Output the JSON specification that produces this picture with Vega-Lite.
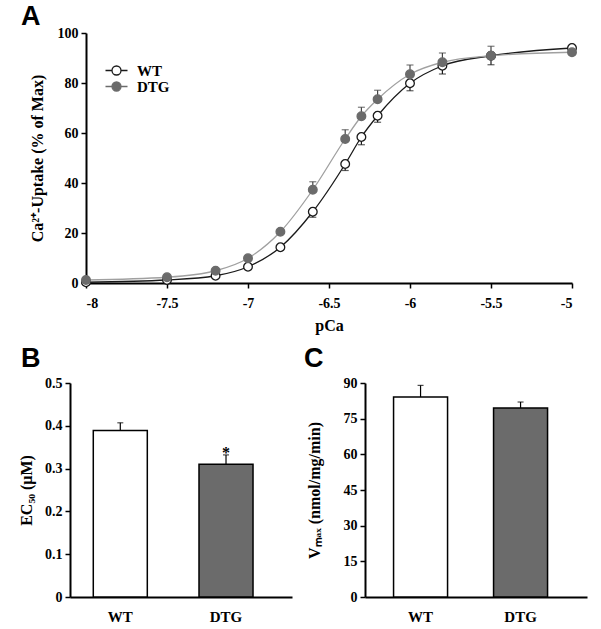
{
  "$schema": "https://vega.github.io/schema/vega-lite/v6.json",
  "padding": {"left": 18, "top": 3, "right": 5, "bottom": 5},
  "background": "white",
  "spacing": 12,
  "config": {
    "view": {"stroke": null},
    "axis": {
      "labelFont": "Liberation Serif", "labelFontWeight": "bold", "labelFontSize": 14, "labelColor": "black",
      "titleFont": "Liberation Serif", "titleFontWeight": "bold", "titleFontSize": 16, "titleColor": "black",
      "domainColor": "black", "domainWidth": 2, "tickColor": "black", "tickWidth": 1.5, "tickSize": 5,
      "grid": false, "labelPadding": 3, "labelOverlap": false
    },
    "title": {"font": "Liberation Sans", "fontWeight": "bold", "fontSize": 27, "color": "black", "anchor": "start", "frame": "group"}
  },
  "datasets": {
    "curve": [
      {"pCa": -8.0, "group": "WT", "value": 0.3, "end": null},
      {"pCa": -7.5, "group": "WT", "value": 1.2, "end": null},
      {"pCa": -7.2, "group": "WT", "value": 2.9, "end": null},
      {"pCa": -7.0, "group": "WT", "value": 6.5, "end": null},
      {"pCa": -6.8, "group": "WT", "value": 14.3, "end": 13.3},
      {"pCa": -6.6, "group": "WT", "value": 28.5, "end": 26.3},
      {"pCa": -6.4, "group": "WT", "value": 47.6, "end": 45.0},
      {"pCa": -6.3, "group": "WT", "value": 58.4, "end": 55.3},
      {"pCa": -6.2, "group": "WT", "value": 66.9, "end": 64.3},
      {"pCa": -6.0, "group": "WT", "value": 79.9, "end": 76.9},
      {"pCa": -5.8, "group": "WT", "value": 86.9, "end": 83.6},
      {"pCa": -5.5, "group": "WT", "value": 90.9, "end": 87.3},
      {"pCa": -5.0, "group": "WT", "value": 94.0, "end": null},
      {"pCa": -8.0, "group": "DTG", "value": 1.2, "end": null},
      {"pCa": -7.5, "group": "DTG", "value": 2.3, "end": null},
      {"pCa": -7.2, "group": "DTG", "value": 4.9, "end": null},
      {"pCa": -7.0, "group": "DTG", "value": 9.9, "end": null},
      {"pCa": -6.8, "group": "DTG", "value": 20.5, "end": 21.5},
      {"pCa": -6.6, "group": "DTG", "value": 37.3, "end": 40.5},
      {"pCa": -6.4, "group": "DTG", "value": 57.6, "end": 61.3},
      {"pCa": -6.3, "group": "DTG", "value": 66.7, "end": 70.3},
      {"pCa": -6.2, "group": "DTG", "value": 73.5, "end": 77.1},
      {"pCa": -6.0, "group": "DTG", "value": 83.5, "end": 87.2},
      {"pCa": -5.8, "group": "DTG", "value": 88.3, "end": 92.0},
      {"pCa": -5.5, "group": "DTG", "value": 90.9, "end": 94.7},
      {"pCa": -5.0, "group": "DTG", "value": 92.3, "end": null}
    ],
    "ec50": [
      {"group": "WT", "value": 0.389, "hi": 0.407, "star": ""},
      {"group": "DTG", "value": 0.310, "hi": 0.332, "star": "*"}
    ],
    "vmax": [
      {"group": "WT", "value": 84.1, "hi": 89.0},
      {"group": "DTG", "value": 79.5, "hi": 82.0}
    ]
  },
  "vconcat": [
    {
      "title": {"text": "A", "dx": -49, "offset": -5},
      "width": 502,
      "height": 250,
      "data": {"name": "curve"},
      "layer": [
        {
          "mark": {"type": "line", "interpolate": "monotone", "strokeWidth": 1.3},
          "encoding": {
            "x": {"field": "pCa", "type": "quantitative",
                  "scale": {"domain": [-8, -5], "range": [16, 502], "nice": false, "zero": false},
                  "axis": {"title": "pCa", "values": [-8, -7.5, -7, -6.5, -6, -5.5, -5], "tickCount": 7, "format": "~g",
                           "labelExpr": "replace(datum.label, '−', '-')", "labelPadding": 8, "titlePadding": 7}},
            "y": {"field": "value", "type": "quantitative", "scale": {"domain": [0, 100]},
                  "axis": {"title": "Ca²⁺-Uptake (% of Max)", "values": [0, 20, 40, 60, 80, 100], "tickCount": 6, "titlePadding": 12, "offset": -16}},
            "detail": {"field": "group"},
            "stroke": {"condition": {"test": "datum.group === 'WT'", "value": "#1a1a1a"}, "value": "#a0a0a0"}
          }
        },
        {
          "transform": [{"filter": "datum.end != null"}],
          "mark": {"type": "rule", "strokeWidth": 1.2},
          "encoding": {
            "x": {"field": "pCa", "type": "quantitative"},
            "y": {"field": "value", "type": "quantitative"},
            "y2": {"field": "end"},
            "stroke": {"condition": {"test": "datum.group === 'WT'", "value": "#1a1a1a"}, "value": "#444444"}
          }
        },
        {
          "transform": [{"filter": "datum.end != null"}],
          "mark": {"type": "tick", "orient": "horizontal", "size": 7, "thickness": 1.2},
          "encoding": {
            "x": {"field": "pCa", "type": "quantitative"},
            "y": {"field": "end", "type": "quantitative"},
            "color": {"condition": {"test": "datum.group === 'WT'", "value": "#1a1a1a"}, "value": "#444444"}
          }
        },
        {
          "mark": {"type": "point", "filled": true, "size": 75, "strokeWidth": 1.3, "opacity": 1},
          "encoding": {
            "x": {"field": "pCa", "type": "quantitative"},
            "y": {"field": "value", "type": "quantitative"},
            "fill": {"field": "group", "type": "nominal",
                     "scale": {"domain": ["WT", "DTG"], "range": ["white", "#6b6b6b"]},
                     "legend": {"title": null, "orient": "none", "legendX": 39, "legendY": 30, "padding": 0,
                                "symbolType": "M-2.2,0H-0.9M0.9,0H2.2M-0.9,0A0.9,0.9 0 1 1 0.9,0A0.9,0.9 0 1 1 -0.9,0Z",
                                "symbolSize": 100, "symbolStrokeWidth": 1.3, "labelOffset": 13, "rowPadding": 0,
                                "labelFont": "Liberation Serif", "labelFontWeight": "bold", "labelFontSize": 15, "labelColor": "black"}},
            "stroke": {"field": "group", "type": "nominal",
                       "scale": {"domain": ["WT", "DTG"], "range": ["#1a1a1a", "#6b6b6b"]},
                       "legend": {"title": null, "orient": "none", "legendX": 39, "legendY": 30, "padding": 0,
                                  "symbolType": "M-2.2,0H-0.9M0.9,0H2.2M-0.9,0A0.9,0.9 0 1 1 0.9,0A0.9,0.9 0 1 1 -0.9,0Z",
                                  "symbolSize": 100, "symbolStrokeWidth": 1.3, "labelOffset": 13, "rowPadding": 0,
                                  "labelFont": "Liberation Serif", "labelFontWeight": "bold", "labelFontSize": 15, "labelColor": "black"}}
          }
        }
      ]
    },
    {
      "hconcat": [
        {
          "title": {"text": "B", "dx": -49, "offset": 3},
          "width": 222,
          "height": 214,
          "data": {"name": "ec50"},
          "encoding": {
            "x": {"field": "group", "type": "nominal", "sort": ["WT", "DTG"],
                  "scale": {"paddingInner": 0.489, "paddingOuter": 0.2945, "align": 0.374},
                  "axis": {"title": null, "labelAngle": 0, "ticks": false, "tickSize": 0, "labelPadding": 12, "labelFontSize": 15}}
          },
          "layer": [
            {
              "mark": {"type": "bar", "stroke": "black", "strokeWidth": 1.5},
              "encoding": {
                "y": {"field": "value", "type": "quantitative", "scale": {"domain": [0, 0.5]},
                      "axis": {"title": "EC₅₀ (μM)", "values": [0, 0.1, 0.2, 0.3, 0.4, 0.5], "tickCount": 6, "format": "~g", "titlePadding": 10}},
                "fill": {"field": "group", "type": "nominal", "scale": {"domain": ["WT", "DTG"], "range": ["white", "#666666"]}, "legend": null}
              }
            },
            {
              "mark": {"type": "rule", "strokeWidth": 1.2, "color": "black"},
              "encoding": {
                "y": {"field": "value", "type": "quantitative"},
                "y2": {"field": "hi"}
              }
            },
            {
              "mark": {"type": "tick", "size": 6, "thickness": 1.2, "color": "black"},
              "encoding": {"y": {"field": "hi", "type": "quantitative"}}
            },
            {
              "mark": {"type": "text", "font": "Liberation Serif", "fontWeight": "bold", "fontSize": 16, "baseline": "alphabetic", "dy": 3, "color": "black"},
              "encoding": {
                "y": {"field": "hi", "type": "quantitative"},
                "text": {"field": "star"}
              }
            }
          ]
        },
        {
          "title": {"text": "C", "dx": -61, "offset": 3},
          "width": 222,
          "height": 214,
          "data": {"name": "vmax"},
          "encoding": {
            "x": {"field": "group", "type": "nominal", "sort": ["WT", "DTG"],
                  "scale": {"paddingInner": 0.46, "paddingOuter": 0.34, "align": 0.42},
                  "axis": {"title": null, "labelAngle": 0, "ticks": false, "tickSize": 0, "labelPadding": 12, "labelFontSize": 15}}
          },
          "layer": [
            {
              "mark": {"type": "bar", "stroke": "black", "strokeWidth": 1.5},
              "encoding": {
                "y": {"field": "value", "type": "quantitative", "scale": {"domain": [0, 90]},
                      "axis": {"title": "Vₘₐₓ (nmol/mg/min)", "values": [0, 15, 30, 45, 60, 75, 90], "tickCount": 7, "format": "d", "titlePadding": 21}},
                "fill": {"field": "group", "type": "nominal", "scale": {"domain": ["WT", "DTG"], "range": ["white", "#666666"]}, "legend": null}
              }
            },
            {
              "mark": {"type": "rule", "strokeWidth": 1.2, "color": "black"},
              "encoding": {
                "y": {"field": "value", "type": "quantitative"},
                "y2": {"field": "hi"}
              }
            },
            {
              "mark": {"type": "tick", "size": 6, "thickness": 1.2, "color": "black"},
              "encoding": {"y": {"field": "hi", "type": "quantitative"}}
            }
          ]
        }
      ],
      "spacing": 12
    }
  ]
}
